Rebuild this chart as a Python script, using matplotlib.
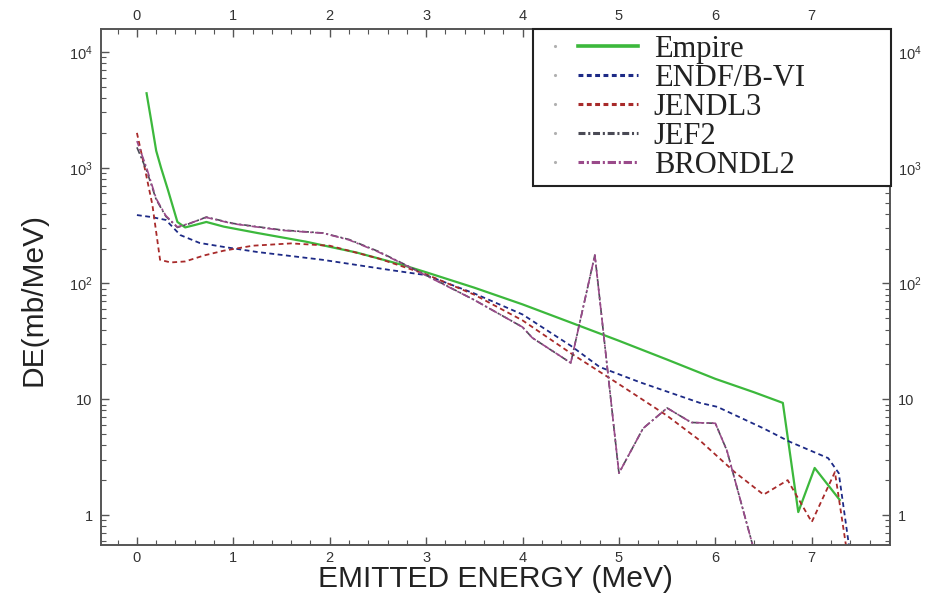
import matplotlib
matplotlib.use("Agg")
import matplotlib.pyplot as plt
from matplotlib.lines import Line2D
from matplotlib.legend_handler import HandlerLine2D
from matplotlib.ticker import FixedLocator, FixedFormatter, MultipleLocator, LogLocator, NullFormatter

plt.rcParams['lines.scale_dashes'] = False
plt.rcParams['mathtext.fontset'] = 'custom'
plt.rcParams['mathtext.rm'] = 'Liberation Sans'

# ============ Data ============
e_empire = [0.10, 0.15, 0.20, 0.25, 0.32, 0.42, 0.50, 0.60, 0.72, 0.90, 1.25, 1.75, 2.28, 2.75,
            3.00, 3.50, 4.00, 4.50, 5.00, 5.50, 6.00, 6.40, 6.70, 6.86, 7.03, 7.29]
y_empire = [4400, 2500, 1400, 1000, 650, 340, 305, 320, 340, 310, 273, 230, 185, 145,
            125, 92, 66, 46, 32, 22, 15, 11.5, 9.3, 1.06, 2.55, 1.35]

e_endf = [0.00, 0.15, 0.30, 0.45, 0.65, 0.90, 1.25, 1.93, 2.62, 3.00, 3.50, 4.00, 4.50, 4.80,
          5.22, 5.84, 6.02, 6.50, 6.77, 7.17, 7.28, 7.40]
y_endf = [390, 375, 354, 262, 224, 207, 187, 160, 131, 118, 82, 54, 29, 19,
          14, 9.3, 8.6, 5.6, 4.3, 3.1, 2.3, 0.45]

e_jendl = [0.00, 0.08, 0.16, 0.24, 0.35, 0.50, 0.70, 0.90, 1.20, 1.60, 2.00, 2.50, 3.00, 3.50,
           4.00, 4.50, 5.00, 5.50, 5.84, 6.20, 6.50, 6.75, 7.00, 7.24, 7.37]
y_jendl = [2000, 1000, 480, 160, 152, 155, 175, 192, 212, 222, 212, 165, 120, 80,
           48, 25, 13.5, 7.2, 4.4, 2.35, 1.5, 2.0, 0.87, 2.35, 0.45]

e_jef = [0.00, 0.10, 0.20, 0.30, 0.42, 0.55, 0.72, 1.00, 1.50, 1.93, 2.20, 2.50, 2.75, 3.00,
         3.50, 4.00, 4.10, 4.50, 4.75, 5.00, 5.25, 5.50, 5.75, 6.00, 6.12, 6.40]
y_jef = [1500, 950, 530, 380, 305, 330, 375, 330, 290, 273, 240, 190, 150, 118,
         72, 42, 34, 20.6, 176, 2.3, 5.6, 8.4, 6.3, 6.2, 3.6, 0.5]

e_brondl = [0.00, 0.10, 0.20, 0.30, 0.42, 0.55, 0.72, 1.00, 1.50, 1.93, 2.20, 2.50, 2.75, 3.00,
            3.50, 4.00, 4.10, 4.50, 4.75, 5.00, 5.25, 5.50, 5.75, 6.00, 6.12, 6.40]
y_brondl = [1700, 1000, 540, 385, 308, 332, 372, 328, 288, 272, 238, 188, 149, 117,
            72, 42, 34, 20.6, 176, 2.3, 5.6, 8.4, 6.3, 6.2, 3.6, 0.5]

series_names = ["Empire", "ENDF/B-VI", "JENDL3", "JEF2", "BRONDL2"]
y_ticks = [1, 10, 100, 1000, 10000]
y_tick_labels = ["1", "10", r"$\mathregular{10^2}$", r"$\mathregular{10^3}$", r"$\mathregular{10^4}$"]

styles = [
    dict(color="#3cb83c", lw=1.6, ls="-"),
    dict(color="#1d2a86", lw=1.3, ls=(0, (3.5, 2.5))),
    dict(color="#a82a2a", lw=1.3, ls=(0, (3.5, 2.5))),
    dict(color="#4a4a55", lw=1.2, ls=(0, (5, 2, 1.5, 2))),
    dict(color="#9a4a8a", lw=1.2, ls=(2, (6, 2, 1.5, 2))),
]


class LeadLine(HandlerLine2D):
    # legend handle with an empty lead-in and a tiny dot before the line
    def __init__(self, lead, **kw):
        super().__init__(**kw)
        self.lead = lead

    def create_artists(self, legend, orig_handle, xdescent, ydescent, width, height, fontsize, trans):
        lead = self.lead * fontsize
        arts = super().create_artists(legend, orig_handle, xdescent - lead, ydescent,
                                      width - lead, height, fontsize, trans)
        dot = Line2D([-xdescent + 0.4 * lead], [(height - ydescent) / 2], marker='.', ms=2.5,
                     color="#b0b0b0", ls="none")
        dot.set_transform(trans)
        return list(arts) + [dot]


fig = plt.figure(figsize=(9.28, 6.1), dpi=100)
ax = fig.add_axes([0.1088, 0.1066, 0.8502, 0.8459])

data = [(e_empire, y_empire), (e_endf, y_endf), (e_jendl, y_jendl), (e_jef, y_jef), (e_brondl, y_brondl)]
for (xs, ys), st in zip(data, styles):
    ax.plot(xs, ys, color=st["color"], lw=st["lw"], linestyle=st["ls"])

ax.set_yscale("log")
ax.set_xlim(-0.373, 7.811)
ax.set_ylim(0.551, 15800)

ax.xaxis.set_major_locator(MultipleLocator(1))
ax.xaxis.set_minor_locator(MultipleLocator(0.2))
ax.yaxis.set_major_locator(FixedLocator(y_ticks))
ax.yaxis.set_major_formatter(FixedFormatter(y_tick_labels))
ax.yaxis.set_minor_locator(LogLocator(base=10, subs=range(2, 10)))
ax.yaxis.set_minor_formatter(NullFormatter())

tick_col = "#555555"
ax.tick_params(which="both", direction="in", top=True, right=True, labeltop=True,
               labelright=True, color=tick_col, labelcolor="#333333")
ax.tick_params(which="major", length=6, width=1.0, labelsize=10.5)
ax.tick_params(which="minor", length=3.5, width=0.8)
ax.tick_params(axis="x", pad=4)
ax.tick_params(axis="y", pad=6)
for lab in ax.get_xticklabels() + ax.get_yticklabels():
    lab.set_family("Liberation Sans")
for sp in ax.spines.values():
    sp.set_color(tick_col)
    sp.set_linewidth(1.4)

ax.set_xlabel("EMITTED ENERGY (MeV)", fontsize=21.5, family="Liberation Sans", color="#222222", labelpad=0)
ax.set_ylabel("DE(mb/MeV)", fontsize=21.5, family="Liberation Sans", color="#222222")
ax.yaxis.set_label_coords(-0.068, 0.475)

handles = [Line2D([], [], color=st["color"], lw=2.6 if i == 0 else 2.2, linestyle=st["ls"])
           for i, st in enumerate(styles)]
leg = ax.legend(handles, series_names, loc="upper left", mode="expand",
                bbox_to_anchor=(0.5475, 0.7016, 0.454, 0.2984), borderaxespad=0,
                prop={"family": "Liberation Serif", "size": 22}, borderpad=0.2,
                labelspacing=0.0, handlelength=3.25, handletextpad=0.5,
                fancybox=False, framealpha=1, edgecolor="#222222",
                handler_map={Line2D: LeadLine(1.28)})
leg.get_frame().set_linewidth(1.5)
leg.set_zorder(5)
for t in leg.get_texts():
    t.set_color("#222222")

fig.savefig("out.png", dpi=100, facecolor="white")
